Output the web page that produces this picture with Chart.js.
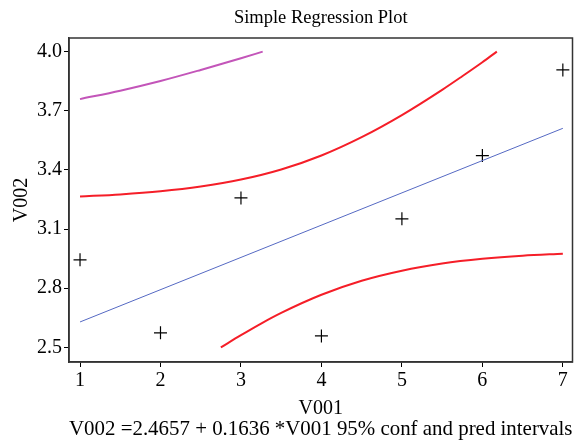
<!DOCTYPE html>
<html>
<head>
<meta charset="utf-8">
<script src="https://cdn.jsdelivr.net/npm/chart.js@4/dist/chart.umd.min.js"></script>
<style>
  body { margin: 0; background: #fff; }
  #wrap { width: 581px; height: 440px; }
</style>
</head>
<body>
<div id="wrap"><canvas id="regChart" width="581" height="440"></canvas></div>
<script>
// observed points (V001, V002)
const obsX = [1, 2, 3, 4, 5, 6, 7];
const obsY = [2.944, 2.574, 3.258, 2.558, 3.152, 3.473, 3.907];

// fitted line V002 = 2.4657 + 0.1636 * V001
const fitX = [1, 7];
const fitY = [2.629, 3.611];

// 95% confidence band (clipped at 2.5 / 4.0)
const confUpX = [1, 1.5, 2, 2.5, 3, 3.5, 4, 4.5, 5, 5.5, 5.75, 6, 6.18];
const confUpY = [3.265, 3.276, 3.292, 3.316, 3.351, 3.402, 3.473, 3.566, 3.678, 3.806, 3.875, 3.946, 4.0];
const confLoX = [2.75, 3, 3.25, 3.5, 4, 4.5, 5, 5.5, 6, 6.5, 7];
const confLoY = [2.5, 2.562, 2.621, 2.675, 2.767, 2.838, 2.889, 2.925, 2.949, 2.965, 2.975];

// 95% prediction band (only the upper part shows)
const predUpX = [1, 1.5, 2, 2.5, 3, 3.27];
const predUpY = [3.759, 3.802, 3.851, 3.907, 3.966, 4.0];

// axis ticks
const xTicks = [1, 2, 3, 4, 5, 6, 7];
const yTicks = [2.5, 2.8, 3.1, 3.4, 3.7, 4.0];

const serif = '"Liberation Serif", "Times New Roman", serif';

function pairs(xs, ys) {
    return xs.map((x, i) => ({ x: x, y: ys[i] }));
}

// box around the plot area
const frame = {
    id: 'frame',
    afterDraw(chart) {
        const a = chart.chartArea;
        const c = chart.ctx;
        c.save();
        c.strokeStyle = '#333';
        c.lineWidth = 1.5;
        c.strokeRect(a.left, a.top, a.right - a.left, a.bottom - a.top);
        c.restore();
    }
};

const ctx = document.getElementById('regChart').getContext('2d');
const regChart = new Chart(ctx, {
    type: 'scatter',
    data: {
        datasets: [
            {
                data: pairs(fitX, fitY),
                showLine: true,
                borderColor: 'rgb(85,105,195)',
                borderWidth: 1,
                pointRadius: 0
            },
            {
                data: pairs(confUpX, confUpY),
                showLine: true,
                cubicInterpolationMode: 'monotone',
                borderColor: 'rgb(245,30,40)',
                borderWidth: 2,
                pointRadius: 0
            },
            {
                data: pairs(confLoX, confLoY),
                showLine: true,
                cubicInterpolationMode: 'monotone',
                borderColor: 'rgb(245,30,40)',
                borderWidth: 2,
                pointRadius: 0
            },
            {
                data: pairs(predUpX, predUpY),
                showLine: true,
                cubicInterpolationMode: 'monotone',
                borderColor: 'rgb(195,85,185)',
                borderWidth: 2,
                pointRadius: 0
            },
            {
                data: pairs(obsX, obsY),
                pointStyle: 'cross',
                pointRadius: 6.5,
                borderColor: '#000',
                backgroundColor: '#000',
                borderWidth: 1.2
            }
        ]
    },
    options: {
        responsive: false,
        animation: false,
        layout: { padding: { left: 0, right: 8.5, top: 0, bottom: 0 } },
        plugins: {
            legend: { display: false },
            tooltip: { enabled: false },
            title: {
                display: true,
                text: 'Simple Regression Plot',
                fullSize: false,
                color: '#000',
                font: { family: serif, size: 18.5, weight: 'normal', lineHeight: 1.2 },
                padding: { top: 7, bottom: 8.8 }
            },
            subtitle: {
                display: true,
                position: 'bottom',
                fullSize: false,
                text: 'V002 =2.4657 + 0.1636 *V001 95% conf and pred intervals',
                color: '#000',
                font: { family: serif, size: 21, weight: 'normal', lineHeight: 1.0 },
                padding: { top: 0, bottom: 0 }
            }
        },
        scales: {
            x: {
                type: 'linear',
                min: 0.863,
                max: 7.12,
                afterFit(scale) { scale.height = 57; },
                afterBuildTicks(scale) { scale.ticks = xTicks.map(v => ({ value: v })); },
                grid: { drawOnChartArea: false, drawTicks: true, tickLength: 5, color: '#000' },
                border: { display: true, color: '#333', width: 1.5 },
                ticks: {
                    color: '#000',
                    padding: 2,
                    maxRotation: 0,
                    font: { family: serif, size: 20 },
                    callback: v => String(v)
                },
                title: {
                    display: true,
                    text: 'V001',
                    color: '#000',
                    font: { family: serif, size: 20, lineHeight: 1.0 },
                    padding: { top: 0, bottom: 0.5 }
                }
            },
            y: {
                type: 'linear',
                min: 2.426,
                max: 4.069,
                afterFit(scale) { scale.width = 69; },
                afterBuildTicks(scale) { scale.ticks = yTicks.map(v => ({ value: v })); },
                grid: { drawOnChartArea: false, drawTicks: true, tickLength: 5, color: '#000' },
                border: { display: true, color: '#333', width: 1.5 },
                ticks: {
                    color: '#000',
                    padding: 2,
                    font: { family: serif, size: 20 },
                    callback: v => Number(v).toFixed(1)
                },
                title: {
                    display: true,
                    text: 'V002',
                    color: '#000',
                    font: { family: serif, size: 20, lineHeight: 1.2 },
                    padding: { top: 10, bottom: 0 }
                }
            }
        }
    },
    plugins: [frame]
});
</script>
</body>
</html>
